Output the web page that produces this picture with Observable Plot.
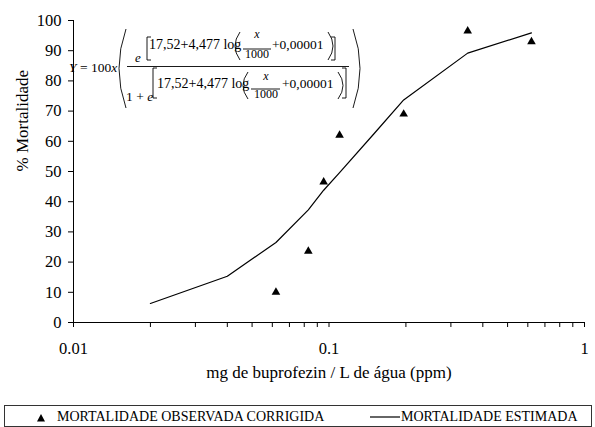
<!DOCTYPE html>
<html><head><meta charset="utf-8">
<script src="https://cdn.jsdelivr.net/npm/d3@7"></script>
<script src="https://cdn.jsdelivr.net/npm/@observablehq/plot@0.6"></script>
<style>
body{margin:0;background:#fff;}
#wrap{position:relative;width:595px;height:427px;overflow:hidden;font-family:"Liberation Serif","Times New Roman",serif;background:#fff;}
#wrap svg{display:block;}
#legend{position:absolute;left:4px;top:405px;width:588px;height:22px;border:1px solid #333;box-sizing:border-box;font-size:14px;color:#000;}
#legend .item{position:absolute;top:3px;white-space:nowrap;line-height:16px;}
</style></head><body><div id="wrap"></div>
<script>
// Observed corrected mortality (triangles)
const obsDose = [0.062, 0.083, 0.0953, 0.110, 0.196, 0.349, 0.620];
const obsMort = [10, 23.6, 46.5, 62, 69, 96.5, 93];
// Estimated mortality (line)
const estDose = [0.02, 0.04, 0.062, 0.083, 0.0953, 0.110, 0.15, 0.196, 0.349, 0.620];
const estMort = [6.3, 15.3, 26.5, 37.3, 43.8, 49.6, 62.5, 73.7, 89.2, 95.9];
// Axis ticks
const xMajor = [0.01, 0.1, 1];
const xMinor = [0.02,0.03,0.04,0.05,0.06,0.07,0.08,0.09,0.2,0.3,0.4,0.5,0.6,0.7,0.8,0.9];
const yTicks = [0,10,20,30,40,50,60,70,80,90,100];
const xLabel = "mg de buprofezin / L de água (ppm)";
const yLabel = "% Mortalidade";
const legendObs = "MORTALIDADE OBSERVADA CORRIGIDA";
const legendEst = "MORTALIDADE ESTIMADA";

const obs = obsDose.map((d,i)=>({dose:d, mort:obsMort[i]}));
const est = estDose.map((d,i)=>({dose:d, mort:estMort[i]}));

const FONT = "'Liberation Serif', 'Times New Roman', serif";
const chart = Plot.plot({
  width:595, height:400, marginLeft:73, marginRight:11, marginTop:20, marginBottom:78,
  style:{fontFamily:FONT, fontSize:"16.5px", background:"#fff", color:"#000"},
  x:{type:"log", domain:[0.01,1]},
  y:{domain:[0,100]},
  marks:[
    Plot.ruleY([0],{stroke:"#000", strokeWidth:1}),
    Plot.ruleX([0.01],{stroke:"#000", strokeWidth:1}),
    Plot.axisY(yTicks,{tickSize:5, tickPadding:7, label:null, fontSize:16.5, stroke:"#000"}),
    Plot.axisX(xMajor,{tickFormat:d=>String(d), tickSize:5, tickPadding:15, label:null, fontSize:16.5, stroke:"#000"}),
    Plot.axisX(xMinor,{tickFormat:()=>"", tickSize:5, label:null, stroke:"#000"}),
    Plot.line(est,{x:"dose", y:"mort", stroke:"#000", strokeWidth:1.2}),
    Plot.dot(obs,{x:"dose", y:"mort", symbol:"triangle", fill:"#000", r:3.2}),
    Plot.text([xLabel],{text:d=>d, frameAnchor:"bottom", dy:55, fontSize:17}),
    Plot.text([yLabel],{text:d=>d, frameAnchor:"left", dx:-51, rotate:-90, fontSize:17})
  ]
});
document.getElementById("wrap").appendChild(chart);

// Formula annotation
const svg = d3.select(chart);
const g = svg.append("g").attr("fill","none").attr("stroke","#000").attr("stroke-width",0.9);
const t = svg.append("g").attr("fill","#000").attr("stroke","none").attr("text-anchor","start")
  .attr("font-family",FONT);
function paren(x, y1, y2, b){
  g.append("path").attr("d",`M${x},${y1} Q${x+b},${(y1+y2)/2} ${x},${y2}`);
}
function bracket(x, y1, y2, dir){
  g.append("path").attr("d",`M${x+dir*4},${y1} H${x} V${y2} H${x+dir*4}`);
}
function txt(x, y, s, size, opts={}){
  const e = t.append("text").attr("x",x).attr("y",y).attr("font-size",size).text(s);
  if(opts.italic) e.attr("font-style","italic");
  e.attr("text-anchor", opts.anchor || "start");
  return e;
}
// Y = 100x
const yt = t.append("text").attr("x",69).attr("y",71.5).attr("font-size",13.5);
yt.append("tspan").attr("font-style","italic").text("Y");
yt.append("tspan").text(" = 100");
yt.append("tspan").attr("font-style","italic").text("x");
// outer parens
paren(126,29,108,-14);
paren(353,29,108,14);
// fraction bar
g.append("line").attr("x1",127).attr("x2",349).attr("y1",66.5).attr("y2",66.5);
// numerator
txt(135,62,"e",13,{italic:true});
bracket(147,37,60,1);
txt(149,48.5,"17,52+4,477 log",14);
paren(240,32,60,-10);
txt(257,38,"x",12,{italic:true,anchor:"middle"});
g.append("line").attr("x1",243).attr("x2",271).attr("y1",49).attr("y2",49);
txt(257,58,"1000",12,{anchor:"middle"});
txt(272,48.5,"+0,00001",13.5);
paren(328,32,60,10);
bracket(335,37,60,-1);
// denominator
const dt = t.append("text").attr("x",126).attr("y",101).attr("font-size",13.5);
dt.append("tspan").text("1 + ");
dt.append("tspan").attr("font-style","italic").text("e");
bracket(153,68,98,1);
txt(157,88,"17,52+4,477 log",14);
paren(248,72,99,-10);
txt(266,80,"x",12,{italic:true,anchor:"middle"});
g.append("line").attr("x1",251).attr("x2",280).attr("y1",89).attr("y2",89);
txt(266,97.5,"1000",12,{anchor:"middle"});
txt(282,88,"+0,00001",13.5);
paren(338,72,99,10);
bracket(346,68,98,-1);

// Legend
const leg = document.createElement("div");
leg.id = "legend";
leg.innerHTML = `<svg width="10" height="10" style="position:absolute;left:31px;top:7px"><polygon points="5,1 9,8.5 1,8.5" fill="#000"/></svg>
<span class="item" style="left:52px">${legendObs}</span>
<svg width="30" height="4" style="position:absolute;left:365px;top:10px"><line x1="0" x2="30" y1="1" y2="1" stroke="#000" stroke-width="1.2"/></svg>
<span class="item" style="left:396px">${legendEst}</span>`;
document.getElementById("wrap").appendChild(leg);
</script></body></html>
